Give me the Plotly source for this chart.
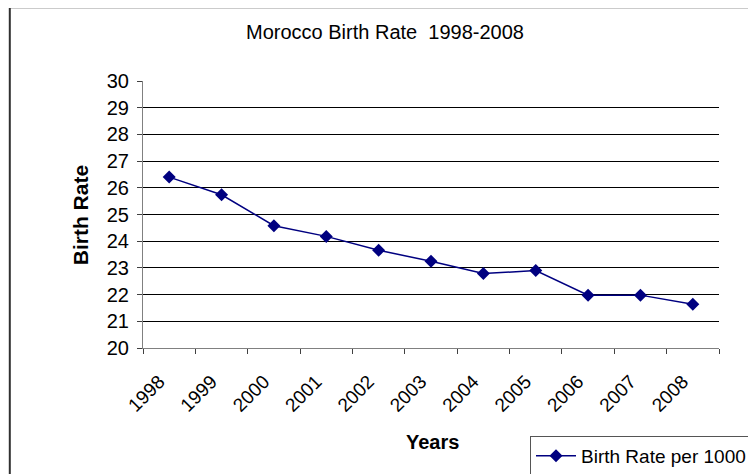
import plotly.graph_objects as go

years = ["1998", "1999", "2000", "2001", "2002", "2003", "2004", "2005", "2006", "2007", "2008"]
birth_rate = [26.4, 25.74, 24.58, 24.18, 23.66, 23.25, 22.79, 22.9, 21.98, 21.98, 21.64]
y_ticks = list(range(20, 31))

FONT = "Arial, Liberation Sans, sans-serif"
OFF = 8  # page body margin
W, H = 756 - OFF, 474 - OFF
# plot area in screen pixels
L, R, T, B = 143, 719, 80.5, 348
pw, ph = R - L, B - T

def px(xs):
    return (xs - L) / pw

def py(ys):
    return (B - ys) / ph

fig = go.Figure()
fig.add_trace(go.Scatter(
    x=years, y=birth_rate, mode="lines+markers",
    name="Birth Rate per 1000",
    line=dict(color="#000080", width=1.5),
    marker=dict(symbol="diamond", size=10, color="#000080"),
))

fig.update_layout(
    width=W, height=H,
    margin=dict(l=L - OFF, r=W - (R - OFF), t=T - OFF, b=H - (B - OFF), pad=0, autoexpand=False),
    paper_bgcolor="white", plot_bgcolor="white",
    font=dict(family=FONT, color="black"),
    title=dict(text="Morocco Birth Rate  1998-2008", x=(385 - OFF) / W, y=1 - (32 - OFF) / H,
               xanchor="center", yanchor="middle", font=dict(size=20, family=FONT)),
    showlegend=True,
    legend=dict(x=px(530), y=py(436), xanchor="left", yanchor="top",
                bordercolor="#555555", borderwidth=1, bgcolor="white",
                font=dict(size=19, family=FONT), entrywidth=260, entrywidthmode="pixels",
                itemwidth=40),
    xaxis=dict(type="category", tickson="boundaries", ticks="outside", ticklen=5,
               tickcolor="#404040", showline=True, linecolor="#808080", linewidth=1,
               showgrid=False, tickangle=-45, tickfont=dict(size=19, family=FONT),
               ticklabelshift=-10, ticklabelstandoff=14,
               range=[-0.5, 10.5], automargin=False),
    yaxis=dict(range=[20, 30], tickvals=y_ticks, ticks="outside", ticklen=5,
               tickcolor="#404040", showline=True, linecolor="#808080", linewidth=1,
               showgrid=True, gridcolor="black", gridwidth=1, zeroline=False,
               tickfont=dict(size=20, family=FONT), ticklabelstandoff=4, automargin=False),
    annotations=[
        dict(text="<b>Birth Rate</b>", x=px(80), y=py(215), xref="paper", yref="paper",
             textangle=-90, showarrow=False, font=dict(size=21, family=FONT),
             xanchor="center", yanchor="middle"),
        dict(text="<b>Years</b>", x=px(432), y=py(442), xref="paper", yref="paper",
             showarrow=False, font=dict(size=20, family=FONT),
             xanchor="center", yanchor="middle"),
    ],
    shapes=[
        dict(type="line", xref="paper", yref="paper", x0=px(9.8), x1=px(9.8),
             y0=py(6), y1=py(480), line=dict(color="#303030", width=2)),
        dict(type="line", xref="paper", yref="paper", x0=px(9), x1=px(760),
             y0=py(6.7), y1=py(6.7), line=dict(color="#303030", width=2)),
    ],
)

fig.write_html("out.html")
